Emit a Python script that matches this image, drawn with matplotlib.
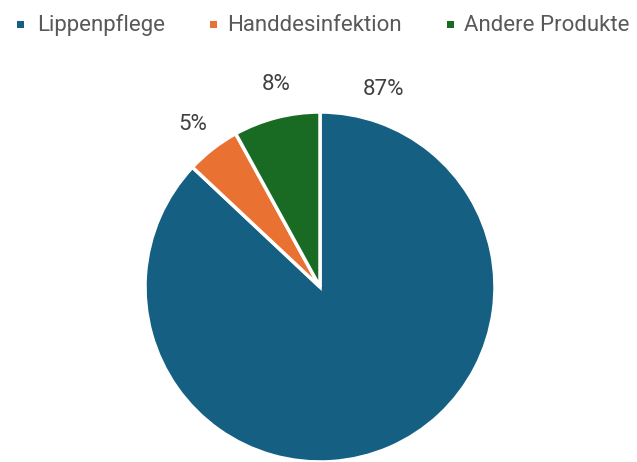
import matplotlib
matplotlib.use('Agg')
import matplotlib.pyplot as plt
from matplotlib.patches import Rectangle

categorias = ['Lippenpflege', 'Handdesinfektion', 'Andere Produkte']
valores = [87, 5, 8]
rotulos = ['87%', '5%', '8%']
cores = ['#156082', '#E97132', '#196B24']
# posicoes dos rotulos (em raios do grafico, x = centro, y = linha de base)
pos_rotulos = [(0.36, 1.097), (-0.726, 0.897), (-0.251, 1.126)]

plt.rcParams['font.family'] = ['Roboto', 'DejaVu Sans']

W, H = 637, 462
fig = plt.figure(figsize=(W / 100, H / 100), dpi=100)
ax = fig.add_axes([(320 - 175) / W, 0.0, 350 / W, 350 / H])

ax.pie(valores, colors=cores, startangle=90, counterclock=False,
       wedgeprops=dict(edgecolor='white', linewidth=2.5))
ax.set_xlim(-1, 1)
ax.set_ylim(-1, 1)
ax.set_aspect('equal')
ax.axis('off')

for rot, (x, y) in zip(rotulos, pos_rotulos):
    ax.text(x, y, rot, ha='center', va='baseline', fontsize=16,
            color='#404040', clip_on=False)

# legenda feita a mao (posicoes em pixels)
leg_marcador_x = [20, 213, 450]
leg_texto_x = [37, 227, 464]
leg_y = 24
leg_base = 31
lado = 7
for cat, cor, mx, tx in zip(categorias, cores, leg_marcador_x, leg_texto_x):
    fig.add_artist(Rectangle(((mx - lado / 2) / W, 1 - (leg_y + lado / 2) / H),
                             lado / W, lado / H, facecolor=cor, edgecolor='none',
                             transform=fig.transFigure))
    fig.text(tx / W, 1 - leg_base / H, cat, ha='left', va='baseline',
             fontsize=16, color='#595959')

fig.savefig('out.png', dpi=100)
